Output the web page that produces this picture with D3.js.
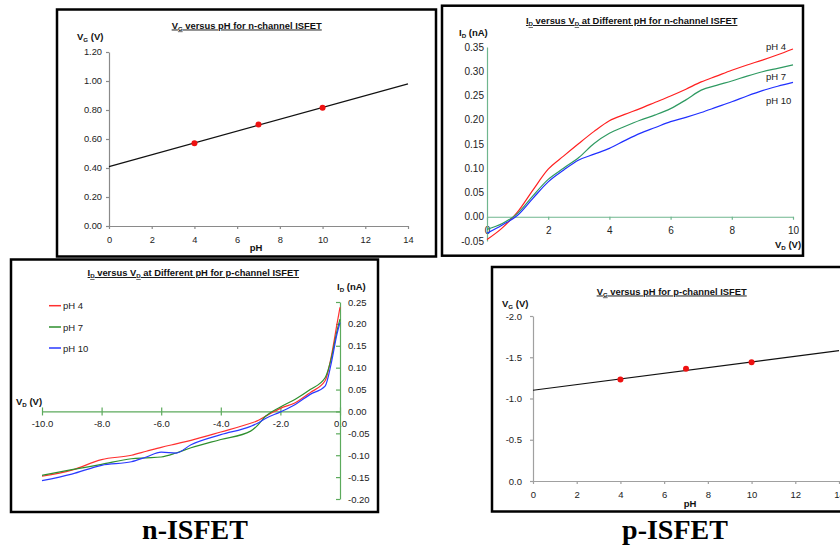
<!DOCTYPE html>
<html lang="en">
<head>
<meta charset="UTF-8">
<title>ISFET characteristics</title>
<script src="https://cdnjs.cloudflare.com/ajax/libs/d3/7.8.5/d3.min.js"></script>
<style>
  body { margin: 0; background: #fff; }
  svg { display: block; font-family: "Liberation Sans", Arial, sans-serif; }
  .frame { fill: none; stroke: #000; stroke-width: 2.5px; }
  .ttl { font-size: 9.4px; font-weight: bold; text-decoration: underline; fill: #111; }
  .lab { font-size: 9.5px; font-weight: bold; fill: #111; }
  .tick text { fill: #222; }
  .curve { fill: none; stroke-width: 1.2px; }
  .fit { stroke: #111; stroke-width: 1.2px; }
  .leg { font-size: 9.5px; fill: #222; }
  .big { font-family: "Liberation Serif", "Times New Roman", serif; font-size: 28px; font-weight: bold; }
</style>
</head>
<body>
<svg id="chart" width="840" height="548"></svg>
<script>
// V_G versus pH (measured points + fitted line at pH 0 and 14)
const phValues = [4, 7, 10];
const phFitEnds = [0, 14];
const nVg = [0.57, 0.70, 0.815];
const nVgFit = [0.41, 0.98];
const pVg = [-1.23, -1.36, -1.44];
const pVgFit = [-1.10, -1.58];

const phLabels = ["pH 4", "pH 7", "pH 10"];

// n-channel I_D (nA) versus V_D (V)
const nVd = [0, 0.5, 1, 1.5, 2, 2.5, 3, 3.5, 4, 4.5, 5, 5.5, 6, 6.5, 7, 7.5, 8, 8.5, 9, 9.5, 10];
const nIdPh4 = [-0.047, -0.023, 0.010, 0.055, 0.098, 0.125, 0.151, 0.176, 0.198, 0.211, 0.223, 0.236, 0.249, 0.263, 0.278, 0.290, 0.302, 0.313, 0.323, 0.334, 0.346];
const nIdPh7 = [-0.026, -0.014, 0.007, 0.043, 0.077, 0.100, 0.122, 0.151, 0.172, 0.186, 0.199, 0.210, 0.223, 0.241, 0.261, 0.271, 0.280, 0.290, 0.299, 0.306, 0.313];
const nIdPh10 = [-0.034, -0.017, 0.003, 0.038, 0.072, 0.096, 0.117, 0.129, 0.141, 0.157, 0.172, 0.184, 0.196, 0.205, 0.215, 0.226, 0.237, 0.249, 0.260, 0.269, 0.277];

// p-channel I_D (nA) versus V_D (V)
const pVd = [-10, -9, -8, -7, -6.5, -6, -5.5, -5, -4, -3, -2.8, -2.5, -2, -1.5, -1, -0.5, -0.3, -0.1, 0];
const pIdPh4 = [-0.148, -0.134, -0.110, -0.100, -0.091, -0.082, -0.074, -0.066, -0.047, -0.027, -0.022, -0.011, 0.007, 0.020, 0.043, 0.070, 0.123, 0.200, 0.238];
const pIdPh7 = [-0.146, -0.133, -0.121, -0.108, -0.106, -0.104, -0.095, -0.083, -0.064, -0.045, -0.034, -0.011, 0.010, 0.028, 0.050, 0.077, 0.119, 0.184, 0.211];
const pIdPh10 = [-0.158, -0.143, -0.123, -0.115, -0.104, -0.093, -0.095, -0.076, -0.053, -0.034, -0.028, -0.016, -0.001, 0.016, 0.039, 0.058, 0.108, 0.177, 0.203];

const nColors = ["#ff2020", "#2f9a62", "#2030ff"];
const pColors = ["#ff3030", "#2e8f2e", "#2a3aff"];

const svg = d3.select("#chart");
svg.append("rect").attr("width", 840).attr("height", 548).attr("fill", "#fff");

// text with "_X" segments drawn as subscripts
function rich(sel, segs) {
    let down = false;
    segs.forEach(s => {
        const sub = s.startsWith("_");
        const ts = sel.append("tspan").text(sub ? s.slice(1) : s);
        if (sub) ts.attr("font-size", "0.65em").attr("dy", 2);
        else if (down) ts.attr("dy", -2);
        down = sub;
    });
    return sel;
}

function styleAxis(g, color, fontSize) {
    g.select(".domain").attr("stroke", color).attr("stroke-width", 1.2);
    g.selectAll(".tick line").attr("stroke", color).attr("stroke-width", 1.2);
    g.selectAll(".tick text").attr("font-size", fontSize).attr("font-family", null);
}

// ---------- panel 1: V_G vs pH, n-channel ----------
{
    const x = d3.scaleLinear([0, 14], [109, 408]);
    const y = d3.scaleLinear([0, 1.2], [226, 52]);
    svg.append("g").attr("transform", `translate(0,${y(0)})`)
        .call(d3.axisBottom(x).tickValues(d3.range(0, 15, 2)).tickSize(3).tickPadding(7).tickSizeOuter(0))
        .call(g => styleAxis(g, "#8a8a8a", 9.3));
    svg.append("g").attr("transform", `translate(${x(0)},0)`)
        .call(d3.axisLeft(y).tickValues(d3.range(0, 1.21, 0.2)).tickSize(3).tickPadding(4).tickSizeOuter(0)
            .tickFormat(d => d.toFixed(2)))
        .call(g => styleAxis(g, "#8a8a8a", 9.3));
    svg.append("line").attr("class", "fit")
        .attr("x1", x(phFitEnds[0])).attr("y1", y(nVgFit[0]))
        .attr("x2", x(phFitEnds[1])).attr("y2", y(nVgFit[1]));
    svg.selectAll(".pt1").data(phValues).join("circle")
        .attr("cx", d => x(d)).attr("cy", (d, i) => y(nVg[i])).attr("r", 3).attr("fill", "#ee1111");
    rich(svg.append("text").attr("class", "ttl").attr("x", 246.7).attr("y", 28.5).attr("text-anchor", "middle"),
        ["V", "_G", " versus pH for n-channel ISFET"]);
    rich(svg.append("text").attr("class", "lab").attr("x", 77).attr("y", 40), ["V", "_G", " (V)"]);
    svg.append("text").attr("class", "lab").attr("x", 256).attr("y", 251).attr("text-anchor", "middle").text("pH");
    svg.append("rect").attr("class", "frame").attr("x", 57).attr("y", 9.5).attr("width", 379).attr("height", 247);
}

// ---------- panel 2: I_D vs V_D, n-channel ----------
{
    const x = d3.scaleLinear([0, 10], [487, 793]);
    const y = d3.scaleLinear([-0.05, 0.35], [241, 47]);
    const ax = "#6fb68e";
    svg.append("g").attr("transform", `translate(0,${y(0)})`)
        .call(d3.axisBottom(x).tickValues(d3.range(0, 11, 2)).tickSize(3).tickPadding(7).tickSizeOuter(0))
        .call(g => styleAxis(g, ax, 10));
    svg.append("g").attr("transform", `translate(${x(0)},0)`)
        .call(d3.axisLeft(y).tickValues(d3.range(-0.05, 0.351, 0.05)).tickSize(0).tickPadding(3).tickSizeOuter(0)
            .tickFormat(d => d.toFixed(2)))
        .call(g => styleAxis(g, ax, 10));
    const line = d3.line().x((d, i) => x(nVd[i])).y(d => y(d)).curve(d3.curveMonotoneX);
    [nIdPh4, nIdPh7, nIdPh10].forEach((s, k) => {
        svg.append("path").attr("class", "curve").attr("stroke", nColors[k]).attr("d", line(s));
    });
    const legY = [50, 80, 104];
    phLabels.forEach((t, k) => {
        svg.append("text").attr("class", "leg").attr("x", 766).attr("y", legY[k]).text(t);
    });
    rich(svg.append("text").attr("class", "ttl").attr("x", 631.7).attr("y", 24).attr("text-anchor", "middle"),
        ["I", "_D", " versus V", "_D", " at Different pH for n-channel ISFET"]);
    rich(svg.append("text").attr("class", "lab").attr("x", 459).attr("y", 36), ["I", "_D", " (nA)"]);
    rich(svg.append("text").attr("class", "lab").attr("x", 775).attr("y", 248), ["V", "_D", " (V)"]);
    svg.append("rect").attr("class", "frame").attr("x", 442).attr("y", 5.7).attr("width", 361).attr("height", 250);
}

// ---------- panel 3: I_D vs V_D, p-channel ----------
{
    const x = d3.scaleLinear([-10, 0], [42, 340]);
    const y = d3.scaleLinear([-0.2, 0.25], [499, 302]);
    const ax = "#5caa5c";
    svg.append("g").attr("transform", `translate(0,${y(0)})`)
        .call(d3.axisBottom(x).tickValues(d3.range(-10, 0.1, 2)).tickSize(4).tickPadding(5).tickSizeOuter(0)
            .tickFormat(d => d.toFixed(1)))
        .call(g => styleAxis(g, ax, 9.5))
        .call(g => g.selectAll(".tick line").attr("y1", -4));
    svg.append("g").attr("transform", `translate(${x(0)},0)`)
        .call(d3.axisRight(y).tickValues(d3.range(-0.2, 0.251, 0.05)).tickSize(-4).tickPadding(8).tickSizeOuter(0)
            .tickFormat(d => d.toFixed(2)))
        .call(g => styleAxis(g, ax, 9.5));
    const line = d3.line().x((d, i) => x(pVd[i])).y(d => y(d)).curve(d3.curveMonotoneX);
    [pIdPh4, pIdPh7, pIdPh10].forEach((s, k) => {
        svg.append("path").attr("class", "curve").attr("stroke", pColors[k]).attr("d", line(s));
    });
    const legY = [305.7, 327, 348];
    phLabels.forEach((t, k) => {
        svg.append("line").attr("x1", 49).attr("x2", 61).attr("y1", legY[k]).attr("y2", legY[k])
            .attr("stroke", pColors[k]).attr("stroke-width", 1.5);
        svg.append("text").attr("class", "leg").attr("x", 63).attr("y", legY[k] + 3.5).text(t);
    });
    rich(svg.append("text").attr("class", "ttl").attr("x", 193.3).attr("y", 276).attr("text-anchor", "middle"),
        ["I", "_D", " versus V", "_D", " at Different pH for p-channel ISFET"]);
    rich(svg.append("text").attr("class", "lab").attr("x", 337).attr("y", 290), ["I", "_D", " (nA)"]);
    rich(svg.append("text").attr("class", "lab").attr("x", 16).attr("y", 405), ["V", "_D", " (V)"]);
    svg.append("rect").attr("class", "frame").attr("x", 11).attr("y", 259.5).attr("width", 367).attr("height", 252.5);
}

// ---------- panel 4: V_G vs pH, p-channel ----------
{
    const x = d3.scaleLinear([0, 14], [533, 839]);
    const y = d3.scaleLinear([0, -2], [481, 316]);
    svg.append("g").attr("transform", `translate(0,${y(0)})`)
        .call(d3.axisBottom(x).tickValues(d3.range(0, 15, 2)).tickSize(3).tickPadding(7).tickSizeOuter(0))
        .call(g => styleAxis(g, "#a0a0a0", 9.5));
    svg.append("g").attr("transform", `translate(${x(0)},0)`)
        .call(d3.axisLeft(y).tickValues([0, -0.5, -1, -1.5, -2]).tickSize(3).tickPadding(8).tickSizeOuter(0)
            .tickFormat(d => d.toFixed(1)))
        .call(g => styleAxis(g, "#a0a0a0", 9.5));
    svg.append("line").attr("class", "fit")
        .attr("x1", x(phFitEnds[0])).attr("y1", y(pVgFit[0]))
        .attr("x2", x(phFitEnds[1])).attr("y2", y(pVgFit[1]));
    svg.selectAll(".pt4").data(phValues).join("circle")
        .attr("cx", d => x(d)).attr("cy", (d, i) => y(pVg[i])).attr("r", 3).attr("fill", "#ee1111");
    rich(svg.append("text").attr("class", "ttl").attr("x", 671.7).attr("y", 294.5).attr("text-anchor", "middle"),
        ["V", "_G", " versus pH for p-channel ISFET"]);
    rich(svg.append("text").attr("class", "lab").attr("x", 502).attr("y", 307), ["V", "_G", " (V)"]);
    svg.append("text").attr("class", "lab").attr("x", 690).attr("y", 507).attr("text-anchor", "middle").text("pH");
    svg.append("rect").attr("class", "frame").attr("x", 492).attr("y", 267).attr("width", 360).attr("height", 244.5);
}

svg.append("text").attr("class", "big").attr("x", 195).attr("y", 539).attr("text-anchor", "middle").text("n-ISFET");
svg.append("text").attr("class", "big").attr("x", 675).attr("y", 539).attr("text-anchor", "middle").text("p-ISFET");
</script>
</body>
</html>
